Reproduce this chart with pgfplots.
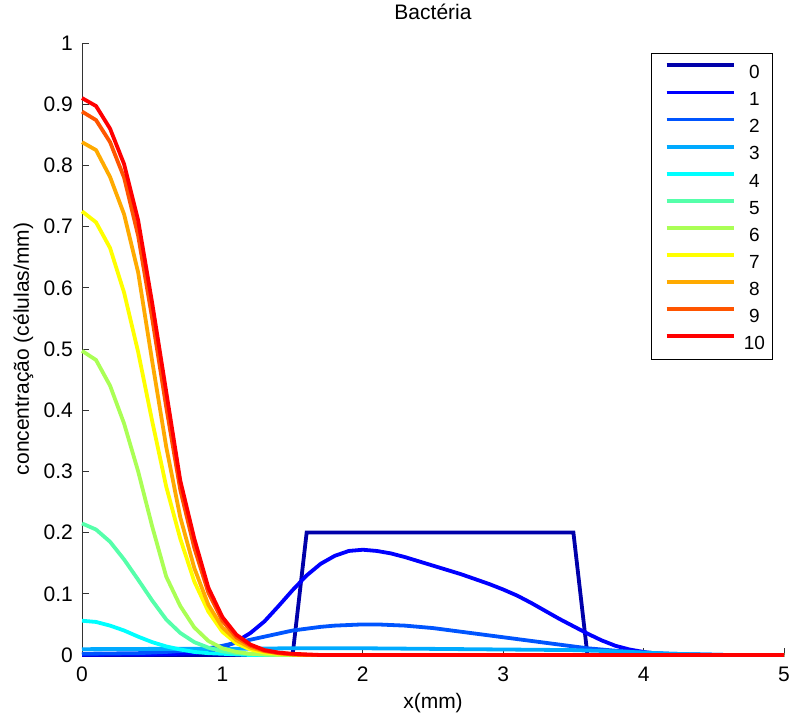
\documentclass[border=0pt]{standalone}
\usepackage{fontspec}
\setmainfont{Liberation Sans}
\usepackage{pgfplots}
\pgfplotsset{compat=1.18}
\definecolor{c0}{rgb}{0,0,0.667}
\definecolor{c1}{rgb}{0,0,1}
\definecolor{c2}{rgb}{0,0.333,1}
\definecolor{c3}{rgb}{0,0.667,1}
\definecolor{c4}{rgb}{0,1,1}
\definecolor{c5}{rgb}{0.333,1,0.667}
\definecolor{c6}{rgb}{0.667,1,0.333}
\definecolor{c7}{rgb}{1,1,0}
\definecolor{c8}{rgb}{1,0.667,0}
\definecolor{c9}{rgb}{1,0.333,0}
\definecolor{c10}{rgb}{1,0,0}
\begin{document}
\begin{tikzpicture}
\begin{axis}[
  at={(0pt,0pt)}, anchor=south west,
  scale only axis, width=702pt, height=612pt,
  xmin=0, xmax=5, ymin=0, ymax=1,
  clip=false,
  axis lines=left,
  axis line style={-, black!80, line width=0.9pt},
  xtick={0,1,2,3,4,5},
  ytick={0,0.1,0.2,0.3,0.4,0.5,0.6,0.7,0.8,0.9,1},
  tick align=inside, major tick length=7pt,
  tick style={black!80, line width=0.9pt},
  /pgf/number format/assume math mode=true,
  tick label style={font=\fontsize{21}{25}\selectfont},
  yticklabel style={anchor=east, inner sep=0pt, xshift=-9pt},
  xticklabel style={anchor=north, inner sep=0pt, yshift=-12pt},
  title={Bactéria},
  title style={at={(axis description cs:0.5,1.0278)}, anchor=base, inner sep=0pt, font=\fontsize{21}{25}\selectfont},
  xlabel={x(mm)},
  xlabel style={at={(axis description cs:0.5,-0.0882)}, anchor=base, inner sep=0pt, font=\fontsize{21}{25}\selectfont},
  ylabel={concentração (células/mm)},
  ylabel style={at={(axis description cs:-0.0755,0.5)}, anchor=base, rotate=0, inner sep=0pt, font=\fontsize{21}{25}\selectfont},
  legend image code/.code={\path (0pt,6.65pt); \draw[#1] (6pt,6.65pt) -- (73pt,6.65pt);},
  legend style={at={(axis description cs:0.9843,0.9837)}, anchor=north east,
    draw=black, line width=1pt, inner xsep=7pt, inner ysep=10pt,
    row sep=11.9pt, column sep=8pt,
    font=\fontsize{19}{22}\selectfont,
    nodes={inner sep=0pt, text height=13.3pt, text depth=0pt, text width=22pt, align=center}},
  lw/.style={line width=3.8pt, no markers},
]
\addplot[c0, lw] coordinates {(0,0) (1.5,0) (1.6,0.2) (3.5,0.2) (3.6,0) (5,0)};
\addplot[c1, lw] coordinates {(0,0.0005) (0.5,0.001) (0.7,0.002) (0.8,0.003) (0.9,0.006) (1.0,0.012) (1.1,0.022) (1.2,0.036) (1.3,0.055) (1.4,0.08) (1.5,0.106) (1.6,0.13) (1.7,0.149) (1.8,0.162) (1.9,0.17) (2.0,0.172) (2.1,0.17) (2.2,0.166) (2.3,0.16) (2.4,0.153) (2.5,0.146) (2.6,0.139) (2.7,0.132) (2.8,0.124) (2.9,0.116) (3.0,0.107) (3.1,0.097) (3.2,0.085) (3.3,0.072) (3.4,0.059) (3.5,0.047) (3.6,0.035) (3.7,0.024) (3.8,0.015) (3.9,0.009) (4.0,0.005) (4.1,0.002) (4.2,0.001) (4.3,0) (5,0)};
\addplot[c2, lw] coordinates {(0,0.002) (0.4,0.003) (0.6,0.005) (0.8,0.008) (0.9,0.011) (1.0,0.015) (1.1,0.02) (1.2,0.025) (1.3,0.03) (1.4,0.035) (1.5,0.04) (1.6,0.043) (1.7,0.046) (1.8,0.048) (1.9,0.049) (2.0,0.05) (2.1,0.05) (2.2,0.049) (2.3,0.048) (2.4,0.046) (2.5,0.044) (2.6,0.041) (2.7,0.038) (2.8,0.035) (2.9,0.032) (3.0,0.029) (3.2,0.023) (3.4,0.017) (3.6,0.011) (3.8,0.007) (4.0,0.004) (4.2,0.002) (4.4,0.001) (4.6,0) (5,0)};
\addplot[c3, lw] coordinates {(0,0.0095) (0.5,0.01) (1.0,0.01) (1.5,0.011) (2.0,0.011) (2.5,0.01) (3.0,0.009) (3.5,0.008) (3.8,0.006) (4.0,0.004) (4.2,0.002) (4.4,0.001) (4.6,0) (5,0)};
\addplot[c4, lw] coordinates {(0,0.056) (0.1,0.054) (0.2,0.048) (0.3,0.04) (0.4,0.03) (0.5,0.021) (0.6,0.014) (0.7,0.009) (0.8,0.005) (0.9,0.003) (1.0,0.002) (1.1,0.001) (1.2,0) (5,0)};
\addplot[c5, lw] coordinates {(0,0.215) (0.1,0.205) (0.2,0.185) (0.3,0.156) (0.4,0.123) (0.5,0.089) (0.6,0.058) (0.7,0.036) (0.8,0.021) (0.9,0.012) (1.0,0.006) (1.1,0.003) (1.2,0.0015) (1.3,0.0007) (1.4,0) (5,0)};
\addplot[c6, lw] coordinates {(0,0.497) (0.1,0.482) (0.2,0.44) (0.3,0.378) (0.4,0.30) (0.5,0.21) (0.6,0.128) (0.7,0.08) (0.8,0.045) (0.9,0.023) (1.0,0.011) (1.1,0.005) (1.2,0.002) (1.3,0.001) (1.4,0) (5,0)};
\addplot[c7, lw] coordinates {(0,0.725) (0.1,0.707) (0.2,0.665) (0.3,0.592) (0.4,0.495) (0.5,0.382) (0.6,0.275) (0.7,0.19) (0.8,0.12) (0.9,0.071) (1.0,0.038) (1.1,0.019) (1.2,0.009) (1.3,0.004) (1.4,0.002) (1.5,0.001) (1.6,0) (5,0)};
\addplot[c8, lw] coordinates {(0,0.838) (0.1,0.825) (0.2,0.781) (0.3,0.72) (0.4,0.625) (0.5,0.48) (0.6,0.34) (0.7,0.225) (0.8,0.142) (0.9,0.082) (1.0,0.045) (1.1,0.024) (1.2,0.012) (1.3,0.006) (1.4,0.003) (1.5,0.001) (1.6,0) (5,0)};
\addplot[c9, lw] coordinates {(0,0.888) (0.1,0.874) (0.2,0.838) (0.3,0.78) (0.4,0.685) (0.5,0.55) (0.6,0.405) (0.7,0.27) (0.8,0.175) (0.9,0.102) (1.0,0.056) (1.1,0.029) (1.2,0.015) (1.3,0.007) (1.4,0.003) (1.5,0.001) (1.6,0) (5,0)};
\addplot[c10, lw] coordinates {(0,0.91) (0.1,0.897) (0.2,0.86) (0.3,0.802) (0.4,0.71) (0.5,0.575) (0.6,0.43) (0.7,0.285) (0.8,0.19) (0.9,0.11) (1.0,0.062) (1.1,0.033) (1.2,0.017) (1.3,0.008) (1.4,0.004) (1.5,0.002) (1.6,0.001) (1.7,0) (5,0)};
\legend{0,1,2,3,4,5,6,7,8,9,10}
\end{axis}
\pgfresetboundingbox
\path[use as bounding box] ([xshift=-82pt,yshift=-61pt]current axis.south west) rectangle ([xshift=6pt,yshift=43pt]current axis.north east);
\end{tikzpicture}
\end{document}
